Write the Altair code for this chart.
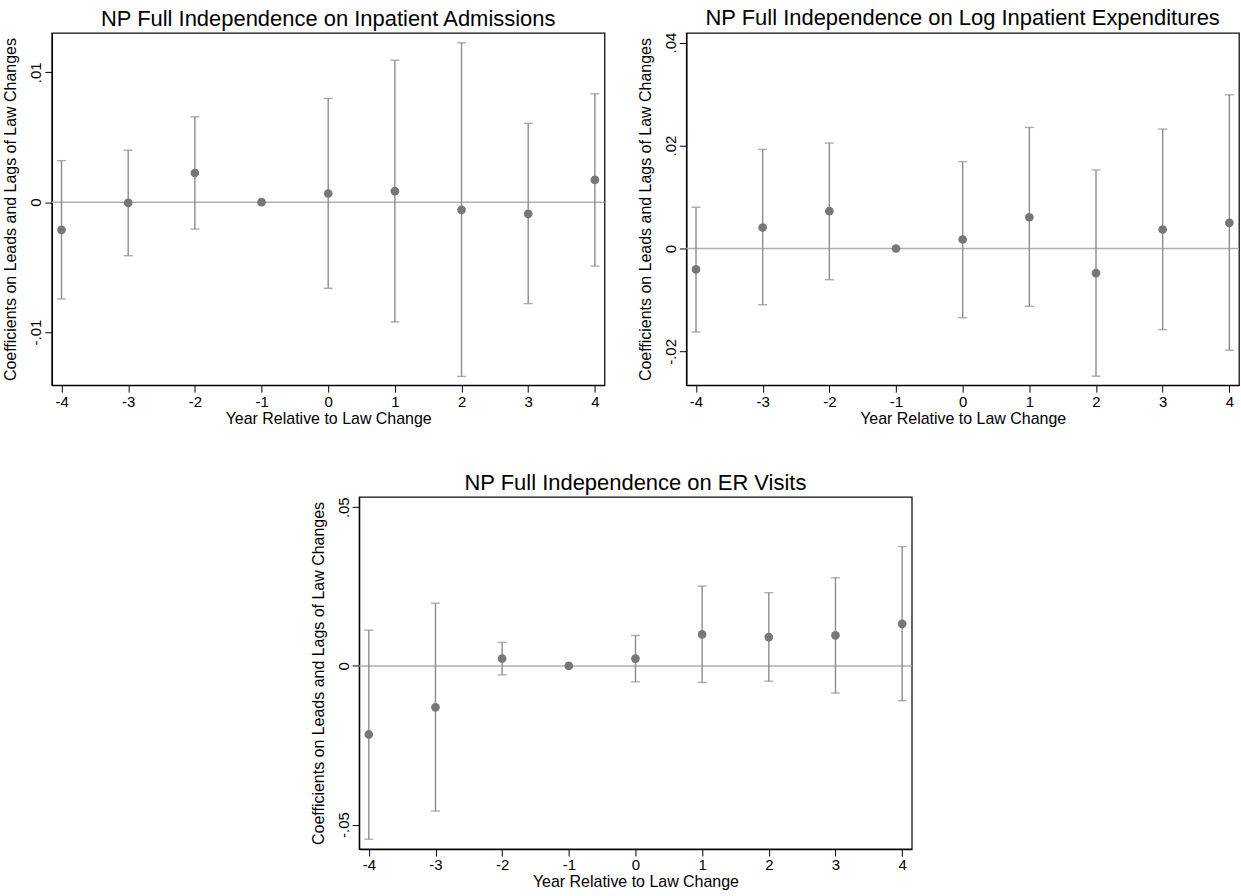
import altair as alt
import pandas as pd

# Event-time axis (years relative to the law change)
years = [-4, -3, -2, -1, 0, 1, 2, 3, 4]

# Inpatient admissions: point estimates and 95% CI bounds
adm_coef = [-0.00213, -0.00005, 0.00225, 0.0, 0.00067, 0.00085, -0.00059, -0.00090, 0.00172]
adm_lo = [-0.00745, -0.00412, -0.00207, 0.0, -0.00663, -0.00922, -0.01342, -0.00781, -0.00492]
adm_hi = [0.00320, 0.00400, 0.00658, 0.0, 0.00799, 0.01093, 0.01227, 0.00607, 0.00835]

# Log inpatient expenditures
exp_coef = [-0.00407, 0.00407, 0.00724, 0.0, 0.00174, 0.00607, -0.00478, 0.00368, 0.00498]
exp_lo = [-0.01622, -0.01092, -0.00607, 0.0, -0.01344, -0.01124, -0.02481, -0.01577, -0.01977]
exp_hi = [0.00801, 0.01926, 0.02048, 0.0, 0.01687, 0.02352, 0.01525, 0.02320, 0.02985]

# ER visits
er_coef = [-0.0216, -0.01305, 0.0023, 0.0, 0.0023, 0.00992, 0.00908, 0.0096, 0.01326]
er_lo = [-0.0546, -0.04572, -0.00282, 0.0, -0.00501, -0.00522, -0.0048, -0.00856, -0.01096]
er_hi = [0.01127, 0.01973, 0.00741, 0.0, 0.0096, 0.02516, 0.02307, 0.02777, 0.03758]

FONT = "Liberation Sans"
POINT_COLOR = "#777777"
BAR_COLOR = "#8c8c8c"
ZERO_COLOR = "#b0b0b0"

# Stata-style tick labels: ".01", "-.01", "0"
Y_LABELS = ("datum.value == 0 ? '0' : (datum.value < 0 ? '-' : '') + "
            "substring(toString(abs(datum.value)), 1)")
Y_TITLE = "Coefficients on Leads and Lags of Law Changes"
X_TITLE = "Year Relative to Law Change"


def panel(title, coef, lo, hi, y_domain, y_ticks):
    df = pd.DataFrame({"year": years, "coef": coef, "lo": lo, "hi": hi})
    bars = df[df["year"] != -1]
    zero = pd.DataFrame({"zero": [0.0]})

    xscale = alt.Scale(domain=[-4.145, 4.145], nice=False, zero=False)
    xaxis = alt.Axis(values=years, title=X_TITLE, labelExpr="toString(datum.value)")
    yscale = alt.Scale(domain=y_domain, nice=False, zero=False)
    yaxis = alt.Axis(values=y_ticks, title=Y_TITLE, labelExpr=Y_LABELS)

    zero_line = alt.Chart(zero).mark_rule(color=ZERO_COLOR, strokeWidth=1.5).encode(
        y=alt.Y("zero:Q", scale=yscale, axis=yaxis)
    )
    rules = alt.Chart(bars).mark_rule(color=BAR_COLOR, strokeWidth=1.4).encode(
        x=alt.X("year:Q", scale=xscale, axis=xaxis),
        y=alt.Y("lo:Q", scale=yscale, axis=yaxis),
        y2="hi:Q",
    )
    caps_lo = alt.Chart(bars).mark_tick(
        orient="horizontal", color=BAR_COLOR, size=9, thickness=1.4
    ).encode(
        x=alt.X("year:Q", scale=xscale, axis=xaxis),
        y=alt.Y("lo:Q", scale=yscale, axis=yaxis),
    )
    caps_hi = alt.Chart(bars).mark_tick(
        orient="horizontal", color=BAR_COLOR, size=9, thickness=1.4
    ).encode(
        x=alt.X("year:Q", scale=xscale, axis=xaxis),
        y=alt.Y("hi:Q", scale=yscale, axis=yaxis),
    )
    points = alt.Chart(df).mark_circle(color=POINT_COLOR, size=76, opacity=1).encode(
        x=alt.X("year:Q", scale=xscale, axis=xaxis),
        y=alt.Y("coef:Q", scale=yscale, axis=yaxis),
    )
    # the rotated y-axis title's measured box reaches above the frame, so the
    # title offset is pulled back to sit just above the plot
    return alt.layer(zero_line, rules, caps_lo, caps_hi, points).properties(
        width=554,
        height=353,
        title=alt.TitleParams(
            title, fontSize=22, font=FONT, fontWeight="normal", color="black",
            baseline="bottom", offset=-20, frame="group",
        ),
    )


p1 = panel("NP Full Independence on Inpatient Admissions",
           adm_coef, adm_lo, adm_hi, [-0.01409, 0.01303], [-0.01, 0, 0.01])
p2 = panel("NP Full Independence on Log Inpatient Expenditures",
           exp_coef, exp_lo, exp_hi, [-0.02655, 0.04186], [-0.02, 0, 0.02, 0.04])
p3 = panel("NP Full Independence on ER Visits",
           er_coef, er_lo, er_hi, [-0.0577, 0.05326], [-0.05, 0, 0.05])

spacer = alt.Chart(pd.DataFrame({"a": [0]})).mark_point(opacity=0).encode(
    x=alt.value(0), y=alt.value(0)
).properties(width=257, height=10, view=alt.ViewBackground(stroke="transparent"))

top_row = alt.hconcat(p1, p2, spacing=30)
bottom_row = alt.hconcat(spacer, p3, spacing=0)

chart = alt.vconcat(top_row, bottom_row, spacing=44).properties(
    padding={"left": 2, "top": 5, "right": 0, "bottom": 0},
    background="white",
).configure_view(
    stroke="#111111", strokeWidth=1.3
).configure_axis(
    grid=False,
    labelFont=FONT, titleFont=FONT,
    labelFontSize=15, titleFontSize=16,
    titleFontWeight="normal",
    labelColor="black", titleColor="black",
    tickColor="black", domainColor="black",
    tickSize=7, domainWidth=1.3, tickWidth=1,
).configure_axisY(
    labelAngle=270, labelAlign="center", labelBaseline="bottom",
    labelPadding=1, titlePadding=11, minExtent=22, maxExtent=22,
).configure_axisX(
    labelPadding=2, titlePadding=1,
)

chart.save("out.html", embed_options={"renderer": "svg", "actions": False})
